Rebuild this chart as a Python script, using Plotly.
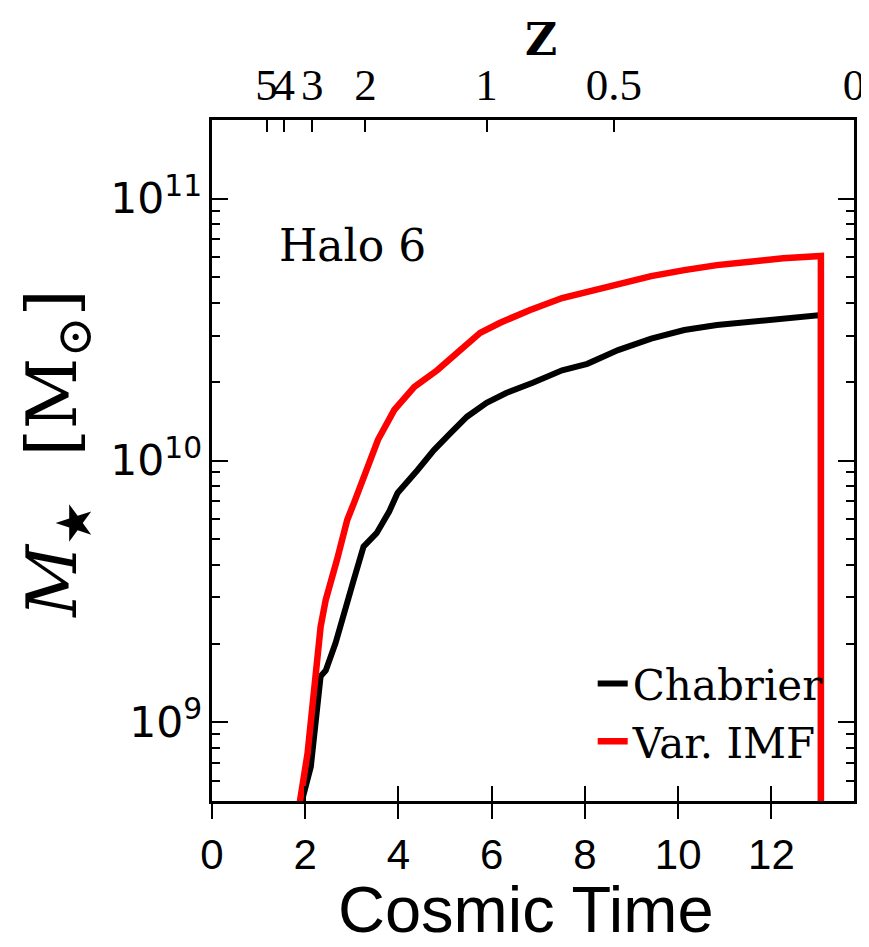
import plotly.graph_objects as go

# ---------------- data ----------------
# Cosmic time [Gyr] and stellar mass [1e9 Msun]
time_chabrier = [1.80, 1.94, 2.12, 2.33, 2.44, 2.65, 2.90, 3.04, 3.25, 3.53, 3.80, 3.98,
                 4.41, 4.76, 5.11, 5.47, 5.89, 6.31, 6.88, 7.51, 8.05, 8.71, 9.42, 10.13,
                 10.83, 11.54, 12.25, 13.06, 13.06]
mass_chabrier = [0.41, 0.507, 0.678, 1.50, 1.58, 2.01, 2.94, 3.50, 4.69, 5.28, 6.38, 7.52,
                 9.20, 10.96, 12.7, 14.7, 16.6, 18.1, 19.8, 22.1, 23.4, 26.4, 29.2, 31.5,
                 32.9, 33.9, 34.9, 35.9, 0.001]

time_varimf = [1.80, 1.89, 2.05, 2.33, 2.44, 2.68, 2.90, 3.05, 3.56, 3.91, 4.34, 4.83,
               5.25, 5.75, 6.17, 6.81, 7.51, 8.22, 8.71, 9.42, 10.13, 10.83, 11.54, 12.25,
               13.06, 13.06]
mass_varimf = [0.40, 0.507, 0.762, 2.32, 2.94, 4.17, 5.93, 6.92, 12.0, 15.6, 19.1, 22.1,
               25.7, 30.7, 33.5, 37.5, 41.7, 44.8, 47.4, 50.6, 53.3, 55.7, 57.4, 59.2,
               60.4, 0.001]

series_names = ["Chabrier", "Var. IMF"]
series_colors = ["black", "#ff0000"]

# bottom axis ticks (cosmic time)
time_ticks = [0, 2, 4, 6, 8, 10, 12]
# top axis: redshift labels and their cosmic-time positions
z_labels = ["5", "4", "3", "2", "1", "0.5", "0"]
z_times = [1.17, 1.54, 2.15, 3.29, 5.89, 8.62, 13.77]

x_range = [0, 13.77]
logy_range = [8.7, 11.3]

# ---------------- figure ----------------
fig = go.Figure()

fig.add_trace(go.Scatter(
    x=time_chabrier, y=[m * 1e9 for m in mass_chabrier], mode="lines",
    name=series_names[0], line=dict(color=series_colors[0], width=6)))
fig.add_trace(go.Scatter(
    x=time_varimf, y=[m * 1e9 for m in mass_varimf], mode="lines",
    name=series_names[1], line=dict(color=series_colors[1], width=6.5)))

# invisible helpers so the extra axes are drawn
fig.add_trace(go.Scatter(x=[None], y=[None], xaxis="x2", yaxis="y",
                         showlegend=False, hoverinfo="skip"))
fig.add_trace(go.Scatter(x=[None], y=[None], xaxis="x3", yaxis="y",
                         showlegend=False, hoverinfo="skip"))

fig.update_layout(
    width=869, height=947,
    margin=dict(l=204, r=15, t=112, b=154),
    paper_bgcolor="white", plot_bgcolor="white",
    showlegend=True,
    legend=dict(x=0.593, y=0.222, xanchor="left", yanchor="top",
                bgcolor="rgba(0,0,0,0)", borderwidth=0,
                font=dict(family="DejaVu Serif", size=42, color="black"),
                itemwidth=30),
    xaxis=dict(range=x_range, tickvals=time_ticks, ticks="outside", ticklen=15,
               tickwidth=2, tickcolor="black", showline=True, linewidth=3,
               linecolor="black", mirror=True, showgrid=False, zeroline=False,
               tickangle=0,
               tickfont=dict(family="Liberation Sans", size=42, color="black")),
    xaxis3=dict(range=x_range, overlaying="x", anchor="y", side="bottom",
                tickvals=time_ticks, ticks="inside", ticklen=15, tickwidth=2,
                tickcolor="black", showticklabels=False, showline=False,
                showgrid=False, zeroline=False),
    xaxis2=dict(range=x_range, overlaying="x", anchor="y", side="top",
                tickvals=z_times, ticktext=z_labels, ticks="inside", ticklen=12,
                tickwidth=1.5, tickcolor="black", tickangle=0,
                ticklabelstandoff=10,
                showline=False, showgrid=False, zeroline=False,
                tickfont=dict(family="Liberation Serif", size=45, color="black")),
    yaxis=dict(type="log", range=logy_range, dtick=1, exponentformat="power",
               ticks="inside", ticklen=16, tickwidth=2, tickcolor="black",
               showline=True, linewidth=3, linecolor="black", mirror="ticks",
               showgrid=False, zeroline=False,
               minor=dict(ticks="inside", ticklen=8, tickwidth=1.5,
                          tickcolor="black", dtick="D1", showgrid=False),
               tickfont=dict(family="DejaVu Sans", size=34, color="black")),
)

fig.add_annotation(text="Cosmic Time", xref="paper", yref="paper",
                   x=0.489, y=-0.16, xanchor="center", yanchor="middle",
                   showarrow=False,
                   font=dict(family="Liberation Sans", size=65, color="black"))
fig.add_annotation(text="<i>M</i><sub>★</sub>  [M<sub>⊙</sub>]", xref="paper", yref="paper",
                   x=-0.2415, y=0.51, xanchor="center", yanchor="middle",
                   textangle=-90, showarrow=False,
                   font=dict(family="DejaVu Serif", size=70, color="black"))
fig.add_annotation(text="<b>Z</b>", xref="paper", yref="paper",
                   x=0.512, y=1.1175, xanchor="center", yanchor="middle",
                   showarrow=False,
                   font=dict(family="DejaVu Serif", size=44, color="black"))
fig.add_annotation(text="Halo 6", xref="paper", yref="paper",
                   x=0.1015, y=0.815, xanchor="left", yanchor="middle",
                   showarrow=False,
                   font=dict(family="DejaVu Serif", size=44, color="black"))

fig.write_html("out.html")
